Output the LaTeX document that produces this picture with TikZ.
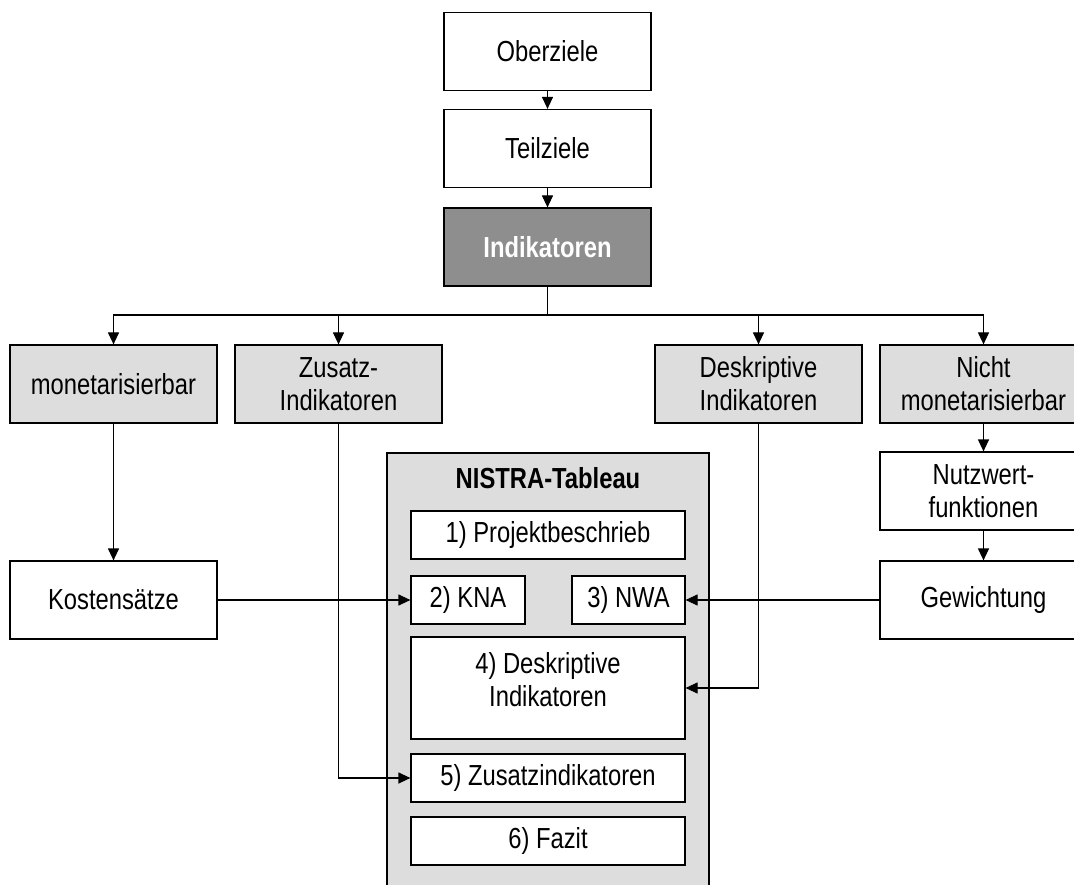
\documentclass[tikz,border=0pt]{standalone}
\usepackage{fontspec}
\setmainfont{Liberation Sans}[FakeStretch=0.82]
\usepackage{tikz}
\usetikzlibrary{arrows.meta,calc}

\definecolor{lightfill}{RGB}{221,221,221}
\definecolor{darkfill}{RGB}{142,142,142}

\begin{document}
\begin{tikzpicture}[x=1pt,y=-1pt,
    font=\fontsize{29}{33}\selectfont,
    line width=1.2pt,
    >={Triangle[length=12pt,width=11pt]},
    box/.style={draw,rectangle,inner sep=0pt,align=center,
      minimum width=207,minimum height=78},
    lightbox/.style={box,fill=lightfill},
    darkbox/.style={box,fill=darkfill,text=white,font=\fontsize{29}{33}\selectfont\bfseries},
    part/.style={draw,rectangle,fill=white,inner sep=0pt,align=center,
      minimum width=274,minimum height=48}]
  \useasboundingbox (0,0) rectangle (1074,885);
  % goal hierarchy
  \node[box] (ober) at (547.5,51.5) {Oberziele};
  \node[box] (teil) at (547.5,148.5) {Teilziele};
  \node[darkbox] (indik) at (547.5,247) {Indikatoren};
  % indicator kinds
  \node[lightbox] (mon) at (113.5,384) {monetarisierbar};
  \node[lightbox] (zus) at (338.5,384) {Zusatz-\\Indikatoren};
  \node[lightbox] (desk) at (758.5,384) {Deskriptive\\Indikatoren};
  \node[lightbox] (nicht) at (983.5,384) {Nicht\\monetarisierbar};
  \node[box] (kosten) at (113.5,600) {Kostensätze};
  \node[box] (nutz) at (983.5,491) {Nutzwert-\\funktionen};
  \node[box] (gew) at (983.5,600) {Gewichtung};
  % tableau
  \node[draw,rectangle,fill=lightfill,minimum width=322,minimum height=447] (nistra) at (548,676.5) {};
  \node[font=\fontsize{29}{33}\selectfont\bfseries] (title) at (548,478) {NISTRA-Tableau};
  \node[part] (p1) at (548,535) {1) Projektbeschrieb};
  \node[part,minimum width=114] (p2) at (468,600) {2) KNA};
  \node[part,minimum width=113] (p3) at (628.5,600) {3) NWA};
  \node[part,minimum height=102] (p4) at (548,688) {};
  \node[align=center,inner sep=0pt] (p4text) at ($(p4.center)+(0,-8)$) {4) Deskriptive\\Indikatoren};
  \node[part] (p5) at (548,778) {5) Zusatzindikatoren};
  \node[part] (p6) at (548,841) {6) Fazit};
  \coordinate (split) at (547.5,315);
  \draw[->] (ober) -- (teil);
  \draw[->] (teil) -- (indik);
  \draw (indik) -- (split);
  \draw[->] (split) -| (mon);
  \draw[->] (split) -| (zus);
  \draw[->] (split) -| (desk);
  \draw[->] (split) -| (nicht);
  \draw[->] (mon) -- (kosten);
  \draw[->] (nicht) -- (nutz);
  \draw[->] (nutz) -- (gew);
  \draw[->] (kosten) -- (p2);
  \draw[->] (gew) -- (p3);
  \draw[->] (desk) |- (p4);
  \draw[->] (zus) |- (p5);
\end{tikzpicture}
\end{document}
